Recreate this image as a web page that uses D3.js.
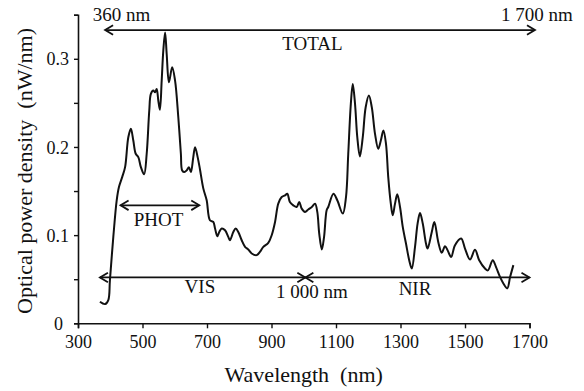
<!DOCTYPE html>
<html>
<head>
<meta charset="utf-8">
<script src="https://cdn.jsdelivr.net/npm/d3@7/dist/d3.min.js"></script>
<style>
  html, body { margin: 0; padding: 0; background: #fff; }
  svg { display: block; }
  text { font-family: "Liberation Serif", "Times New Roman", serif; fill: #111; }
</style>
</head>
<body>
<svg id="chart" width="584" height="391"></svg>
<script>
// Wavelength (nm) samples of the measured spectrum
const wavelength = [368,384,394,399,409.5,420,427,437,446,456,464,471.5,479,487,495,505,513,521,526,533.5,539,544,549,554,559.5,564.5,570,575,582,592,601,611,619,623,630,637,644,650,657.5,663,671,678,688.5,699,709,719.5,725,732,738,745.6,756,766,771,781.6,789,797,807.6,818,828,838.6,854,864,874.6,890,900.6,911,921,931.6,942,949,957,967.6,978,986,993.7,1004,1014,1025,1035,1042,1048,1056,1063,1071,1076,1092,1104,1121,1131,1138,1146,1152,1159,1166,1174,1183,1192,1202,1211,1221,1231,1239,1247,1255,1262,1270,1276,1283,1290,1298.5,1307,1317,1327,1335,1345,1353,1360.5,1369,1379,1384,1397,1405,1417,1428,1438,1446,1457,1469,1488,1500,1515.5,1531,1544,1562,1571,1586,1596,1608.5,1619,1631,1640,1650];
// Optical power density (nW/nm)
const power = [0.0244,0.0218,0.0264,0.049,0.098,0.1395,0.1545,0.1658,0.1771,0.211,0.2206,0.2073,0.1923,0.1885,0.1771,0.1689,0.1923,0.2413,0.2602,0.2639,0.262,0.2658,0.2526,0.2421,0.2752,0.3092,0.3299,0.3054,0.2733,0.2903,0.2752,0.2337,0.1923,0.1734,0.1715,0.1734,0.1771,0.1715,0.1885,0.1998,0.1885,0.175,0.153,0.1395,0.1169,0.1149,0.1075,0.0988,0.1036,0.1075,0.1055,0.098,0.0942,0.1036,0.1075,0.1036,0.0942,0.0867,0.0837,0.0792,0.0773,0.081,0.0867,0.0912,0.0999,0.1149,0.1357,0.1432,0.1451,0.147,0.1376,0.1338,0.1319,0.1376,0.1301,0.1263,0.129,0.1319,0.1357,0.1263,0.1018,0.0837,0.098,0.1282,0.1319,0.147,0.1395,0.1244,0.1432,0.1923,0.2489,0.2715,0.2489,0.2111,0.1893,0.2111,0.245,0.2583,0.245,0.2149,0.198,0.2073,0.2187,0.2036,0.1658,0.1357,0.1225,0.1357,0.1463,0.1319,0.1093,0.0905,0.0716,0.0622,0.0867,0.1131,0.1251,0.1131,0.0905,0.0848,0.1036,0.1149,0.0923,0.0801,0.0874,0.0829,0.0753,0.0886,0.0962,0.0848,0.0724,0.0833,0.0716,0.0622,0.06,0.0716,0.064,0.0527,0.0452,0.0396,0.0527,0.066];

const xTicks = [300,500,700,900,1100,1300,1500,1700];
const yTicks = [0,0.05,0.1,0.15,0.2,0.25,0.3,0.35];
const yTickLabels = ["0","","0.1","","0.2","","0.3",""];

// Range annotations (double arrows)
const rangeNames = ["TOTAL","PHOT","VIS","NIR"];
const rangeStart = [384,432,368,1005];
const rangeEnd   = [1717,676,1005,1700];
const rangeLevel = [0.3326,0.1338,0.052,0.052];

// Text annotations
const noteText  = ["360 nm","1 700 nm","TOTAL","PHOT","VIS","1 000 nm","NIR"];
const noteX     = [345.6,1834,1027,549.6,678,1025.6,1345];
const noteY     = [0.3423,0.3423,0.3103,0.110,0.0339,0.0286,0.032];
const noteAnchor= ["start","end","middle","middle","middle","middle","middle"];

const margin = {left: 78, right: 54.5, top: 14.7, bottom: 67.7};
const W = 584, H = 391;
const svg = d3.select("#chart");

const x = d3.scaleLinear().domain([300,1700]).range([margin.left, W - margin.right]);
const y = d3.scaleLinear().domain([0,0.35]).range([H - margin.bottom, margin.top]);

// X axis
const gx = svg.append("g").attr("transform", `translate(0,${y(0)})`)
  .call(d3.axisBottom(x).tickValues(xTicks).tickFormat(d3.format("d")).tickSizeOuter(0).tickSize(5));
gx.select(".domain").attr("stroke", "#111").attr("stroke-width", 1.6);
gx.selectAll(".tick line").attr("stroke", "#111").attr("stroke-width", 1.4);
gx.selectAll(".tick text").attr("y", 24.7).attr("dy", 0).attr("font-size", 18)
  .style("font-family", '"Liberation Serif", serif').attr("fill", "#111");

// Y axis
const gy = svg.append("g").attr("transform", `translate(${x(300)},0)`)
  .call(d3.axisLeft(y).tickValues(yTicks).tickFormat((d,i) => yTickLabels[i]).tickSizeOuter(0).tickSize(4));
gy.select(".domain").attr("stroke", "#111").attr("stroke-width", 1.6);
gy.selectAll(".tick line").attr("stroke", "#111").attr("stroke-width", 1.4);
gy.selectAll(".tick text").attr("x", -9).attr("dy", "0.34em").attr("font-size", 18)
  .style("font-family", '"Liberation Serif", serif').attr("fill", "#111")
  .attr("dx", (d,i) => yTickLabels[i] === "0" ? -6 : 0);

// Axis titles
svg.append("text").attr("x", (x(300)+x(1700))/2).attr("y", 382)
  .attr("text-anchor", "middle").attr("font-size", 22)
  .attr("xml:space", "preserve").text("Wavelength  (nm)");
svg.append("text").attr("transform", `translate(32,${171}) rotate(-90)`)
  .attr("text-anchor", "middle").attr("font-size", 22)
  .attr("xml:space", "preserve").text("Optical power density  (nW/nm)");

// Spectrum line
const data = wavelength.map((w,i) => [w, power[i]]);
svg.append("path").datum(data)
  .attr("fill", "none").attr("stroke", "#111").attr("stroke-width", 2)
  .attr("stroke-linejoin", "round")
  .attr("d", d3.line().x(d => x(d[0])).y(d => y(d[1])).curve(d3.curveCatmullRom.alpha(0.5)));

// Range arrows
const ah = 8, aw = 4.8;
rangeNames.forEach((n,i) => {
  const x1 = x(rangeStart[i]), x2 = x(rangeEnd[i]), yy = y(rangeLevel[i]);
  const g = svg.append("g").attr("stroke", "#111").attr("fill", "none").attr("stroke-width", 1.8);
  g.append("line").attr("x1", x1).attr("x2", x2).attr("y1", yy).attr("y2", yy);
  g.append("polyline").attr("points", `${x1+ah},${yy-aw} ${x1},${yy} ${x1+ah},${yy+aw}`);
  g.append("polyline").attr("points", `${x2-ah},${yy-aw} ${x2},${yy} ${x2-ah},${yy+aw}`);
});

// Notes
noteText.forEach((t,i) => {
  svg.append("text").attr("x", x(noteX[i])).attr("y", y(noteY[i]))
    .attr("text-anchor", noteAnchor[i]).attr("font-size", 19).text(t);
});
</script>
</body>
</html>
